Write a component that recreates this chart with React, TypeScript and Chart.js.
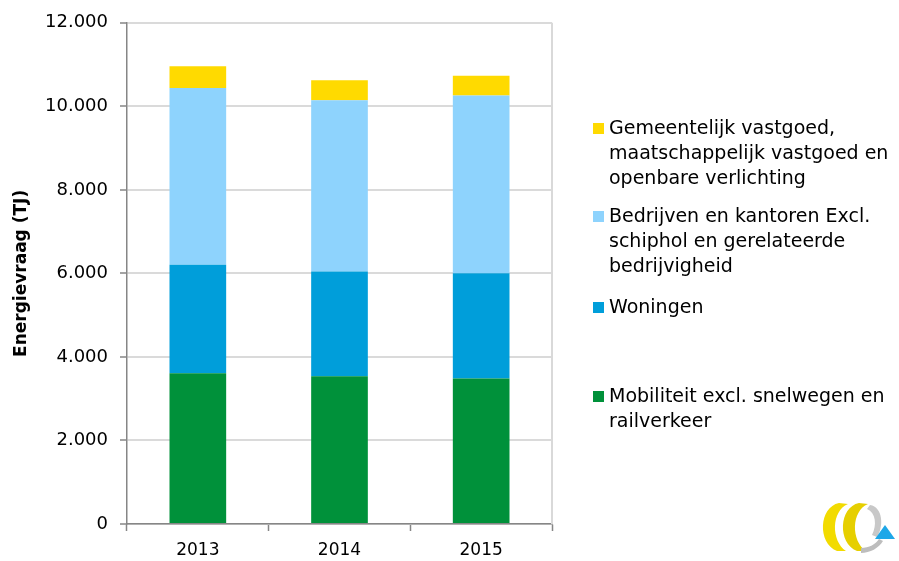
import React, { useEffect, useRef } from "react";
import { Chart, registerables } from "chart.js";

Chart.register(...registerables);

const categories = ["2013", "2014", "2015"];
const mobiliteit = [3610, 3540, 3485];
const woningen = [2600, 2505, 2520];
const bedrijven = [4230, 4100, 4255];
const gemeentelijk = [520, 480, 470];
const yTickValues = [0, 2000, 4000, 6000, 8000, 10000, 12000];

const seriesNames = [
  "Mobiliteit excl. snelwegen en railverkeer",
  "Woningen",
  "Bedrijven en kantoren Excl. schiphol en gerelateerde bedrijvigheid",
  "Gemeentelijk vastgoed, maatschappelijk vastgoed en openbare verlichting",
];
const colors = ["#00913A", "#009EDA", "#8ED3FD", "#FFDA00"];

const legendItems = [
  { color: colors[3], lines: ["Gemeentelijk vastgoed,", "maatschappelijk vastgoed en", "openbare verlichting"], top: 115 },
  { color: colors[2], lines: ["Bedrijven en kantoren Excl.", "schiphol en gerelateerde", "bedrijvigheid"], top: 203 },
  { color: colors[1], lines: ["Woningen"], top: 294 },
  { color: colors[0], lines: ["Mobiliteit excl. snelwegen en", "railverkeer"], top: 383 },
];

const FONT = "'DejaVu Sans', sans-serif";

function fmt(v: number): string {
  return String(v).replace(/\B(?=(\d{3})+(?!\d))/g, ".");
}

const rightBorder = {
  id: "rightBorder",
  afterDraw(chart: any) {
    const { ctx, chartArea } = chart;
    ctx.save();
    ctx.strokeStyle = "#d9d9d9";
    ctx.lineWidth = 2;
    ctx.beginPath();
    ctx.moveTo(chartArea.right, chartArea.top);
    ctx.lineTo(chartArea.right, chartArea.bottom);
    ctx.stroke();
    ctx.restore();
  },
};

export default function App() {
  const ref = useRef<HTMLCanvasElement>(null);

  useEffect(() => {
    if (!ref.current) return;
    const data = [mobiliteit, woningen, bedrijven, gemeentelijk];
    const chart = new Chart(ref.current, {
      type: "bar",
      data: {
        labels: categories,
        datasets: data.map((d, i) => ({
          label: seriesNames[i],
          data: d,
          backgroundColor: colors[i],
          borderWidth: 0,
          categoryPercentage: 1,
          barPercentage: 0.4,
        })),
      },
      options: {
        animation: false,
        responsive: false,
        devicePixelRatio: 1,
        layout: { padding: { left: 0, right: 347, top: 22, bottom: 0 } },
        plugins: { legend: { display: false }, tooltip: { enabled: false } },
        scales: {
          x: {
            stacked: true,
            afterFit: (s: any) => {
              s.height = 37;
            },
            grid: {
              offset: true,
              drawOnChartArea: false,
              drawTicks: true,
              tickLength: 7,
              tickColor: "#868686",
              tickWidth: 1.5,
            },
            border: { color: "#868686", width: 1.5 },
            ticks: { color: "#000", font: { family: FONT, size: 17 }, padding: 9 },
          },
          y: {
            stacked: true,
            min: 0,
            max: 12000,
            afterFit: (s: any) => {
              s.width = 127;
            },
            afterBuildTicks: (s: any) => {
              s.ticks = yTickValues.map((v) => ({ value: v }));
            },
            grid: {
              color: "#dadada",
              lineWidth: 2,
              tickLength: 7,
              tickColor: "#868686",
              tickWidth: 1.5,
            },
            border: { color: "#868686", width: 1.5 },
            ticks: {
              color: "#000",
              font: { family: FONT, size: 18 },
              padding: 12,
              callback: (v: any) => fmt(Number(v)),
            },
            title: {
              display: true,
              text: "Energievraag (TJ)",
              color: "#000",
              font: { family: FONT, size: 17, weight: "bold" },
              padding: { top: 11, bottom: 0 },
            },
          },
        },
      },
      plugins: [rightBorder],
    } as any);
    return () => chart.destroy();
  }, []);

  return (
    <div style={{ position: "fixed", left: 0, top: 0, width: 899, height: 561, background: "#fff" }}>
      <canvas ref={ref} width={899} height={561} style={{ position: "absolute", left: 0, top: 0 }} />
      {legendItems.map((it, i) => (
        <div key={i} style={{ position: "absolute", left: 593, top: it.top, fontFamily: FONT, fontSize: 19, lineHeight: "25px", color: "#000" }}>
          <div style={{ position: "absolute", left: 0, top: 8, width: 11, height: 11, background: it.color }} />
          <div style={{ marginLeft: 16, whiteSpace: "nowrap" }}>
            {it.lines.map((l, j) => (
              <div key={j}>{l}</div>
            ))}
          </div>
        </div>
      ))}
      <svg style={{ position: "absolute", left: 815, top: 495 }} width={84} height={62} viewBox="0 0 84 62">
        <path d="M24 8 C4 12 2 48 22 56 L31 56 C16 46 16 16 33 9 Z" fill="#F2DB00" />
        <path d="M44 8 C24 12 22 48 42 56 L51 56 C36 46 36 16 53 9 Z" fill="#E6CF00" />
        <path d="M55 10 C68 12 69 32 62 42 L57 40 C62 30 61 18 52 14 Z" fill="#c8c8c8" />
        <path d="M46 53 C54 53 61 49 64 44 L68 46 C64 53 55 58 46 58 Z" fill="#bdbdbd" />
        <path d="M70 30 L80 44 L60 44 Z" fill="#1EA7E8" />
      </svg>
    </div>
  );
}
